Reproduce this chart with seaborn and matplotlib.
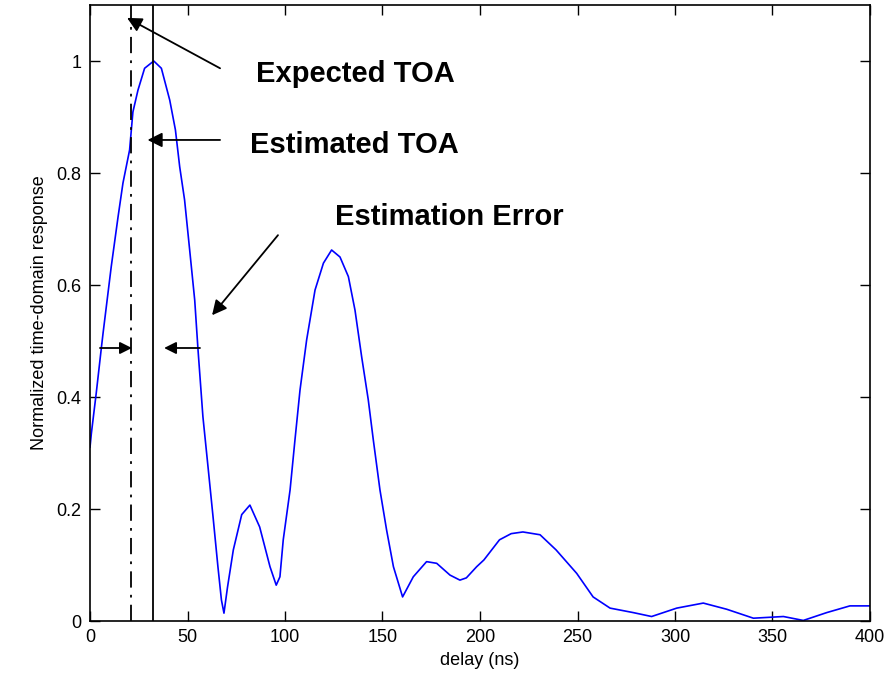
import matplotlib
matplotlib.use("Agg")
import matplotlib.pyplot as plt
import seaborn as sns
import pandas as pd

delay_ns = [0, 0.7, 3.2, 5.8, 6.7, 10.9, 14.4, 16.9, 20.3, 22, 24.6, 28, 32.7,
            36.6, 40.9, 43.8, 46, 48.5, 51.1, 53.7, 55.4, 57.9, 60.5, 63.1, 65.6,
            67.4, 68.7, 70.5, 73.5, 77.8, 82, 87, 92.3, 95.5, 97.4, 99.1, 102.6,
            105.1, 107.7, 111.1, 115.4, 119.7, 123.9, 128.2, 132.5, 135.9, 139.3,
            142.7, 145.3, 148.7, 152.1, 155.6, 160.3, 165.8, 172.6, 177.8, 184.6,
            189.7, 193, 198.3, 202, 210, 216, 222, 230.8, 239, 249.6, 258, 266.7,
            278.6, 288, 300.9, 314.5, 326.5, 340.2, 355.6, 365.8, 377.8, 389.7, 400]
response = [0.31, 0.335, 0.407, 0.487, 0.514, 0.633, 0.722, 0.782, 0.841, 0.909,
            0.948, 0.987, 1.0, 0.987, 0.930, 0.877, 0.811, 0.752, 0.663, 0.573,
            0.484, 0.365, 0.276, 0.186, 0.097, 0.0375, 0.014, 0.06, 0.127, 0.19,
            0.207, 0.168, 0.097, 0.064, 0.079, 0.145, 0.234, 0.323, 0.4125, 0.502,
            0.591, 0.639, 0.6625, 0.65, 0.615, 0.555, 0.472, 0.395, 0.323, 0.234,
            0.1625, 0.097, 0.043, 0.079, 0.106, 0.103, 0.082, 0.073, 0.077, 0.097,
            0.109, 0.145, 0.156, 0.159, 0.154, 0.127, 0.085, 0.043, 0.023, 0.015,
            0.008, 0.023, 0.032, 0.021, 0.005, 0.008, 0.001, 0.015, 0.027, 0.027]

expected_toa = 21
estimated_toa = 32.5
x_ticks = [0, 50, 100, 150, 200, 250, 300, 350, 400]
y_ticks = [0, 0.2, 0.4, 0.6, 0.8, 1.0]
y_tick_labels = ["0", "0.2", "0.4", "0.6", "0.8", "1"]

sns.set_style("ticks")
plt.rcParams['font.family'] = ['Liberation Sans', 'DejaVu Sans']
plt.rcParams['text.color'] = 'k'
plt.rcParams['axes.labelcolor'] = 'k'
plt.rcParams['xtick.color'] = 'k'
plt.rcParams['ytick.color'] = 'k'

fig = plt.figure(figsize=(8.92, 6.89), dpi=100)
ax = fig.add_axes([90/892, 68/689, 780/892, 616/689])

df = pd.DataFrame({"delay": delay_ns, "resp": response})
sns.lineplot(data=df, x="delay", y="resp", ax=ax, color=(0, 0, 1), lw=1.2,
             estimator=None, sort=False)

ax.axvline(expected_toa, color='k', lw=1.3, linestyle=(0, (9, 4, 1.5, 4)))
ax.axvline(estimated_toa, color='k', lw=1.3)

ax.set_xlim(0, 400)
ax.set_ylim(0, 1.1)
ax.set_xticks(x_ticks)
ax.set_xticklabels([str(t) for t in x_ticks])
ax.set_yticks(y_ticks)
ax.set_yticklabels(y_tick_labels)
ax.tick_params(direction='in', length=7, width=1, top=True, right=True,
               labelsize=13, pad=6, colors='k')
for s in ax.spines.values():
    s.set_visible(True)
    s.set_linewidth(1.2)
    s.set_color('k')

ax.set_xlabel("delay (ns)", fontsize=13, labelpad=4, color='k')
ax.set_ylabel("Normalized time-domain response", fontsize=13, labelpad=6, color='k')

ap = dict(arrowstyle='-|>', mutation_scale=22, color='k', lw=1.3, shrinkA=0, shrinkB=0)
ax.annotate("", xy=(19, 1.077), xytext=(66.7, 0.987), arrowprops=ap)
ax.annotate("", xy=(29.5, 0.859), xytext=(66.7, 0.859), arrowprops=ap)
ax.annotate("", xy=(62.6, 0.546), xytext=(96.4, 0.689), arrowprops=ap)
ap2 = dict(arrowstyle='-|>', mutation_scale=18, color='k', lw=1.3, shrinkA=0, shrinkB=0)
ax.annotate("", xy=(21.5, 0.4875), xytext=(5.1, 0.4875), arrowprops=ap2)
ax.annotate("", xy=(38, 0.4875), xytext=(56.4, 0.4875), arrowprops=ap2)

tk = dict(fontsize=21, fontweight='bold', va='center', ha='left', color='k')
ax.text(85, 0.977, "Expected TOA", **tk)
ax.text(82, 0.850, "Estimated TOA", **tk)
ax.text(125.5, 0.722, "Estimation Error", **tk)

fig.savefig("out.png", dpi=100)
